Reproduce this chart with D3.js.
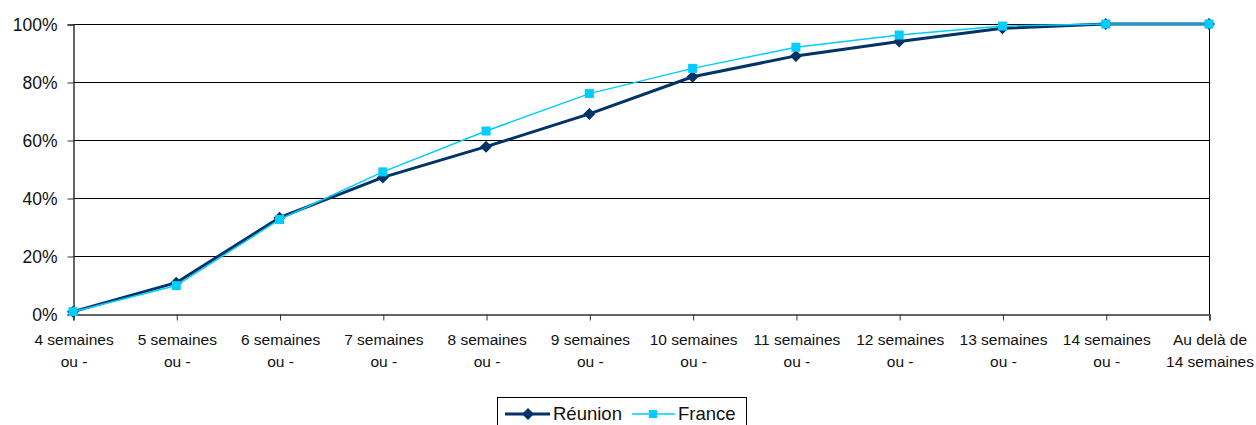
<!DOCTYPE html>
<html><head><meta charset="utf-8">
<script src="https://cdn.jsdelivr.net/npm/d3@7"></script>
<style>body{margin:0;background:#fff}svg{display:block;font-family:"Liberation Sans",Arial,sans-serif}</style>
</head><body><svg id="c" width="1256" height="425"></svg>
<script>
const categories = [["4 semaines","ou -"],["5 semaines","ou -"],["6 semaines","ou -"],["7 semaines","ou -"],["8 semaines","ou -"],["9 semaines","ou -"],["10 semaines","ou -"],["11 semaines","ou -"],["12 semaines","ou -"],["13 semaines","ou -"],["14 semaines","ou -"],["Au delà de","14 semaines"]];
const reunion = [0.8, 10.8, 33.2, 47.1, 57.7, 69.0, 81.8, 89.0, 94.0, 98.5, 100, 100];
const france  = [0.8, 9.8, 32.6, 49.0, 63.1, 76.0, 84.7, 92.0, 96.2, 99.3, 100, 100];
const yTicks = [0, 20, 40, 60, 80, 100];
const seriesNames = ["Réunion", "France"];

const FONT = '"Liberation Sans",Arial,sans-serif';
const svg = d3.select("#c");
const L = 73, R = 1209, T = 24, B = 314;
const x = d3.scalePoint().domain(d3.range(categories.length)).range([L, R]);
const y = d3.scaleLinear().domain([0, 100]).range([B, T]);

// gridlines
svg.append("g").selectAll("line").data(yTicks.filter(d => d > 0)).join("line")
  .attr("x1", L).attr("x2", R).attr("y1", d => y(d) + 0.5).attr("y2", d => y(d) + 0.5)
  .attr("stroke", "#000").attr("stroke-width", 1);
// right border
svg.append("line").attr("x1", R + 0.5).attr("x2", R + 0.5).attr("y1", T).attr("y2", B)
  .attr("stroke", "#000");

// y axis
const ya = svg.append("g").attr("transform", `translate(${L + 0.5},0.5)`)
  .call(d3.axisLeft(y).tickValues(yTicks).tickFormat(d => d + "%").tickSize(6).tickPadding(10));
ya.select(".domain").attr("stroke", "#333").attr("stroke-width", 1.5);
ya.selectAll(".tick line").attr("stroke", "#333");
ya.selectAll("text").attr("font-size", 17.5).attr("fill", "#111").attr("font-family", FONT);

// x axis
const xa = svg.append("g").attr("transform", `translate(0.5,${B + 0.5})`)
  .call(d3.axisBottom(x).tickSize(6).tickFormat(""));
xa.select(".domain").attr("stroke", "#333").attr("stroke-width", 1.5);
xa.selectAll(".tick line").attr("stroke", "#333");
xa.selectAll(".tick").each(function(d) {
  const t = d3.select(this).append("text").attr("fill", "#111").attr("font-size", 15.5)
    .attr("text-anchor", "middle").attr("font-family", FONT);
  t.append("tspan").attr("x", 0).attr("y", 30).text(categories[d][0]);
  t.append("tspan").attr("x", 0).attr("y", 52).text(categories[d][1]);
});

const line = d3.line().x((d, i) => x(i)).y(d => y(d));
const dia = (cx, cy, r) => `M${cx},${cy - r}L${cx + r},${cy}L${cx},${cy + r}L${cx - r},${cy}Z`;

// Réunion
svg.append("path").datum(reunion).attr("d", line).attr("fill", "none")
  .attr("stroke", "#003366").attr("stroke-width", 3).attr("stroke-linejoin", "round");
svg.append("g").selectAll("path").data(reunion).join("path")
  .attr("d", (d, i) => dia(x(i), y(d), 6)).attr("fill", "#003366");
// France
svg.append("path").datum(france).attr("d", line).attr("fill", "none")
  .attr("stroke", "#00CCFF").attr("stroke-width", 1.5);
svg.append("g").selectAll("rect").data(france).join("rect")
  .attr("x", (d, i) => x(i) - 4.5).attr("y", d => y(d) - 4.5)
  .attr("width", 9).attr("height", 9).attr("fill", "#00CCFF");

// legend
const lg = svg.append("g");
lg.append("rect").attr("x", 497.5).attr("y", 397.5).attr("width", 249).attr("height", 40)
  .attr("fill", "#fff").attr("stroke", "#000");
lg.append("line").attr("x1", 505).attr("x2", 550).attr("y1", 414).attr("y2", 414)
  .attr("stroke", "#003366").attr("stroke-width", 3);
lg.append("path").attr("d", dia(528, 414, 6)).attr("fill", "#003366");
lg.append("text").attr("x", 553).attr("y", 420).attr("font-size", 18.5).attr("fill", "#111")
  .attr("font-family", FONT).text(seriesNames[0]);
lg.append("line").attr("x1", 632).attr("x2", 675).attr("y1", 414).attr("y2", 414)
  .attr("stroke", "#00CCFF").attr("stroke-width", 1.5);
lg.append("rect").attr("x", 649).attr("y", 410).attr("width", 8).attr("height", 8).attr("fill", "#00CCFF");
lg.append("text").attr("x", 678).attr("y", 420).attr("font-size", 18.5).attr("fill", "#111")
  .attr("font-family", FONT).text(seriesNames[1]);
</script></body></html>
